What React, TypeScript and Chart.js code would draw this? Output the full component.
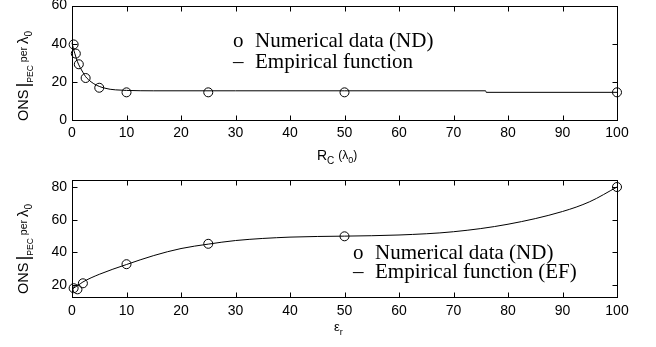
import React, { useEffect, useRef } from "react";
import { Chart, registerables } from "chart.js";

Chart.register(...registerables);

// ---- Top panel data (ONS vs R_C) ----
const topNdX = [0.3, 0.7, 1.25, 2.5, 5, 10, 25, 50, 100];
const topNdY = [39.6, 34.8, 29.2, 22, 16.9, 14.5, 14.5, 14.5, 14.5];
const topEfX = [0, 0.25, 0.5, 1, 1.5, 2, 2.5, 3, 4, 5, 6, 7, 8, 10, 15, 20, 30, 50, 75.9, 76, 100];
const topEfY = [40.5, 37.5, 35, 30.5, 27.5, 25, 22.7, 21.2, 19, 17.6, 16.7, 16.1, 15.8, 15.5, 15.3, 15.3, 15.3, 15.3, 15.3, 14.5, 14.5];
const topXTicks = [0, 10, 20, 30, 40, 50, 60, 70, 80, 90, 100];
const topYTicks = [0, 20, 40, 60];

// ---- Bottom panel data (ONS vs eps_r) ----
const botNdX = [0.3, 1, 2, 10, 25, 50, 100];
const botNdY = [18, 17.3, 21, 32.7, 45.2, 49.8, 80];
const botEfX = [0, 1, 2, 5, 10, 15, 20, 25, 30, 40, 50, 60, 70, 80, 90, 95, 100];
const botEfY = [17.5, 19.5, 21.8, 26.5, 32.5, 38, 42.3, 45, 47.2, 49.3, 49.9, 50.6, 52.6, 57.2, 65, 71, 80];
const botXTicks = [0, 10, 20, 30, 40, 50, 60, 70, 80, 90, 100];
const botYTicks = [20, 40, 60, 80];

const legendTop = ["Numerical data (ND)", "Empirical function"];
const legendBot = ["Numerical data (ND)", "Empirical function (EF)"];

const TICK_FONT = { family: "'Liberation Sans', Arial, sans-serif", size: 14 };
const SERIF = "'Liberation Serif', 'Times New Roman', serif";
const SANS = "'Liberation Sans', Arial, sans-serif";

function toPts(xs: number[], ys: number[]) {
  return xs.map((x, i) => ({ x, y: ys[i] }));
}

function drawPieces(ctx: CanvasRenderingContext2D, pieces: { t: string; size: number; dy: number; gap?: number; font?: string }[]) {
  let x = 0;
  for (const p of pieces) {
    ctx.font = `${p.size}px ${p.font || SANS}`;
    ctx.fillText(p.t, x, p.dy);
    x += ctx.measureText(p.t).width + (p.gap || 0);
  }
}

const boxPlugin = {
  id: "boxTicks",
  afterDraw(chart: any) {
    const ctx = chart.ctx as CanvasRenderingContext2D;
    const { left, right, top, bottom } = chart.chartArea;
    const L = Math.round(left) + 0.5, R = Math.round(right) + 0.5;
    const T = Math.round(top) + 0.5, B = Math.round(bottom) + 0.5;
    ctx.save();
    ctx.strokeStyle = "#000";
    ctx.lineWidth = 1;
    ctx.strokeRect(L, T, R - L, B - T);
    const xs = chart.scales.x, ys = chart.scales.y;
    const len = 5;
    ctx.beginPath();
    for (const t of xs.ticks) {
      const px = Math.round(xs.getPixelForValue(t.value)) + 0.5;
      ctx.moveTo(px, B); ctx.lineTo(px, B - len);
      ctx.moveTo(px, T); ctx.lineTo(px, T + len);
    }
    for (const t of ys.ticks) {
      const py = Math.round(ys.getPixelForValue(t.value)) + 0.5;
      ctx.moveTo(L, py); ctx.lineTo(L + len, py);
      ctx.moveTo(R, py); ctx.lineTo(R - len, py);
    }
    ctx.stroke();

    const o = chart.options.plugins.annot;
    ctx.fillStyle = "#000";
    ctx.textBaseline = "alphabetic";
    // y title (rotated)
    ctx.save();
    ctx.translate(o.yTitle.x, o.yTitle.y);
    ctx.rotate(-Math.PI / 2);
    drawPieces(ctx, [
      { t: "ONS", size: 14.5, dy: 0, gap: 2 },
      { t: "|", size: 19, dy: 1, gap: 0 },
      { t: "PEC", size: 8.5, dy: 5, gap: 3 },
      { t: "per", size: 10.5, dy: -1, gap: 3 },
      { t: "λ", size: 15, dy: 0, gap: 0 },
      { t: "0", size: 10, dy: 4 },
    ]);
    ctx.restore();
    // x title
    ctx.save();
    ctx.translate(o.xTitle.x, o.xTitle.y);
    if (o.xTitle.kind === "rc") {
      drawPieces(ctx, [
        { t: "R", size: 14, dy: 0, gap: 0 },
        { t: "C", size: 10, dy: 4, gap: 4 },
        { t: "(λ", size: 12, dy: -1, gap: 0 },
        { t: "0", size: 9, dy: 3, gap: 0 },
        { t: ")", size: 12, dy: -1 },
      ]);
    } else {
      drawPieces(ctx, [
        { t: "ε", size: 13, dy: 0, gap: 0 },
        { t: "r", size: 9, dy: 4 },
      ]);
    }
    ctx.restore();
    // legend
    ctx.font = `21px ${SERIF}`;
    const lg = o.legend;
    ctx.fillText("o", lg.symX, lg.y1);
    ctx.fillText(lg.labels[0], lg.textX, lg.y1);
    ctx.fillText("–", lg.symX, lg.y2);
    ctx.fillText(lg.labels[1], lg.textX, lg.y2);
    ctx.restore();
  },
};

function makeConfig(opts: any) {
  return {
    type: "scatter",
    data: {
      datasets: [
        {
          label: "EF",
          data: toPts(opts.efX, opts.efY),
          showLine: true,
          borderColor: "#000",
          borderWidth: 1,
          pointRadius: 0,
          cubicInterpolationMode: "monotone",
          clip: false,
        },
        {
          label: "ND",
          data: toPts(opts.ndX, opts.ndY),
          showLine: false,
          borderColor: "#000",
          backgroundColor: "rgba(0,0,0,0)",
          borderWidth: 1,
          pointRadius: 4.5,
          pointStyle: "circle",
          clip: false,
        },
      ],
    },
    options: {
      animation: false,
      responsive: false,
      devicePixelRatio: 1,
      layout: { padding: { left: 0, right: 39, top: opts.padTop, bottom: 0 } },
      plugins: {
        legend: { display: false },
        tooltip: { enabled: false },
        annot: opts.annot,
      },
      scales: {
        x: {
          type: "linear",
          min: 0,
          max: 100,
          afterBuildTicks: (s: any) => { s.ticks = opts.xTicks.map((v: number) => ({ value: v })); },
          afterFit: (s: any) => { s.height = 50; s.paddingLeft = 0; s.paddingRight = 0; },
          ticks: { font: TICK_FONT, color: "#000", padding: opts.xPad, maxRotation: 0, autoSkip: false },
          grid: { display: false, drawTicks: false },
          border: { display: false },
        },
        y: {
          type: "linear",
          min: opts.yMin,
          max: opts.yMax,
          afterBuildTicks: (s: any) => { s.ticks = opts.yTicks.map((v: number) => ({ value: v })); },
          afterFit: (s: any) => { s.width = 72; s.paddingTop = 0; s.paddingBottom = 0; },
          ticks: { font: TICK_FONT, color: "#000", padding: 5, autoSkip: false },
          grid: { display: false, drawTicks: false },
          border: { display: false },
        },
      },
    },
    plugins: [boxPlugin],
  } as any;
}

export default function App() {
  const topRef = useRef<HTMLCanvasElement>(null);
  const botRef = useRef<HTMLCanvasElement>(null);

  useEffect(() => {
    const c1 = new Chart(
      topRef.current!,
      makeConfig({
        efX: topEfX, efY: topEfY, ndX: topNdX, ndY: topNdY,
        xTicks: topXTicks, yTicks: topYTicks, yMin: 0, yMax: 60, padTop: 5, xPad: 5,
        annot: {
          yTitle: { x: 28, y: 121 },
          xTitle: { x: 317, y: 160, kind: "rc" },
          legend: { symX: 233, textX: 255, y1: 47, y2: 68, labels: legendTop },
        },
      })
    );
    const c2 = new Chart(
      botRef.current!,
      makeConfig({
        efX: botEfX, efY: botEfY, ndX: botNdX, ndY: botNdY,
        xTicks: botXTicks, yTicks: botYTicks, yMin: 12.6, yMax: 84.3, padTop: 10, xPad: 6,
        annot: {
          yTitle: { x: 28, y: 124 },
          xTitle: { x: 334, y: 161, kind: "eps" },
          legend: { symX: 353, textX: 375, y1: 89, y2: 108, labels: legendBot },
        },
      })
    );
    return () => { c1.destroy(); c2.destroy(); };
  }, []);

  return (
    <div style={{ position: "absolute", left: 0, top: 0, width: 656, height: 347, background: "#fff" }}>
      <canvas ref={topRef} width={656} height={170} style={{ display: "block", width: 656, height: 170 }} />
      <canvas ref={botRef} width={656} height={177} style={{ display: "block", width: 656, height: 177 }} />
    </div>
  );
}
